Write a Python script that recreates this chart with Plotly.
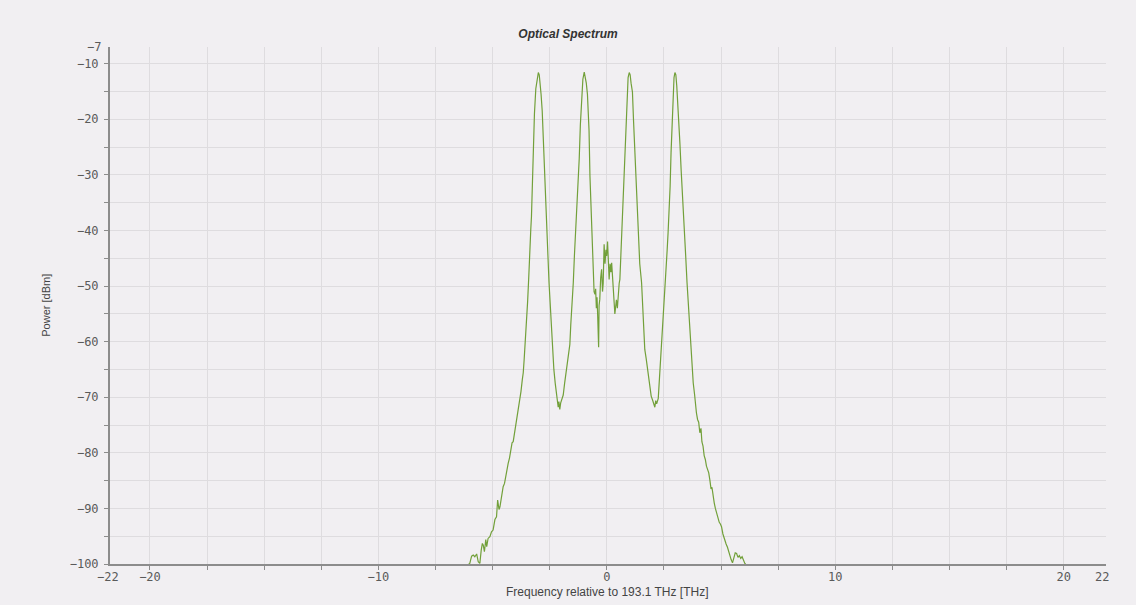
import plotly.graph_objects as go

# Optical spectrum trace: frequency offset [THz] and power [dBm]
freq_thz = [
    -6.05, -6.00, -5.92, -5.85, -5.78, -5.70, -5.63, -5.56, -5.50, -5.45,
    -5.41, -5.36, -5.30, -5.26, -5.20, -5.12, -5.05, -4.98, -4.90, -4.83,
    -4.78, -4.72, -4.68, -4.62, -4.54, -4.48, -4.42, -4.36, -4.32, -4.26,
    -4.20, -4.15, -4.10, -4.03, -3.95, -3.90, -3.85, -3.81, -3.76, -3.70,
    -3.66, -3.62, -3.57, -3.52, -3.47, -3.42, -3.37, -3.33, -3.30, -3.25,
    -3.22, -3.17, -3.11, -3.05, -3.00, -2.96, -2.92, -2.88, -2.83, -2.79,
    -2.75, -2.71, -2.67, -2.63, -2.58, -2.53, -2.47, -2.43, -2.38, -2.32,
    -2.26, -2.20, -2.16, -2.13, -2.10, -2.06, -2.02, -1.97, -1.91, -1.85,
    -1.80, -1.76, -1.70, -1.66, -1.62, -1.58, -1.52, -1.47, -1.42, -1.37,
    -1.33, -1.27, -1.21, -1.16, -1.11, -1.05, -0.99, -0.95, -0.90, -0.85,
    -0.81, -0.78, -0.74, -0.70, -0.67, -0.63, -0.60, -0.56, -0.52, -0.49,
    -0.46, -0.43, -0.40, -0.36, -0.34, -0.31, -0.27, -0.23, -0.19, -0.16,
    -0.12, -0.08, -0.04, -0.01, 0.03, 0.06, 0.10, 0.14, 0.18, 0.21,
    0.25, 0.28, 0.32, 0.35, 0.38, 0.42, 0.46, 0.50, 0.54, 0.57,
    0.61, 0.65, 0.69, 0.73, 0.78, 0.83, 0.88, 0.93, 0.98, 1.02,
    1.06, 1.12, 1.17, 1.23, 1.28, 1.33, 1.38, 1.44, 1.52, 1.58,
    1.66, 1.72, 1.81, 1.88, 1.94, 2.00, 2.06, 2.10, 2.14, 2.18,
    2.25, 2.30, 2.35, 2.39, 2.44, 2.49, 2.54, 2.59, 2.64, 2.68,
    2.73, 2.77, 2.81, 2.86, 2.90, 2.94, 2.98, 3.02, 3.06, 3.10,
    3.15, 3.20, 3.25, 3.30, 3.34, 3.40, 3.45, 3.51, 3.56, 3.61,
    3.66, 3.71, 3.75, 3.78, 3.84, 3.88, 3.92, 3.97, 4.02, 4.07,
    4.12, 4.16, 4.21, 4.26, 4.31, 4.36, 4.41, 4.46, 4.51, 4.56,
    4.60, 4.65, 4.70, 4.75, 4.80, 4.86, 4.92, 4.97, 5.02, 5.08,
    5.12, 5.16, 5.22, 5.28, 5.33, 5.38, 5.44, 5.50, 5.56, 5.62,
    5.68, 5.74, 5.80, 5.86, 5.92, 5.98, 6.04, 6.08,
]
power_dbm = [
    -100.0, -99.9, -98.6, -98.4, -98.7, -98.2, -99.6, -99.9, -97.5, -96.3,
    -96.6, -97.8, -95.6, -96.9, -95.4, -95.1, -94.2, -93.9, -92.0, -91.5,
    -88.5, -90.2, -89.7, -87.8, -86.1, -85.5, -83.8, -83.0, -81.9, -80.9,
    -79.6, -78.2, -78.0, -76.2, -74.0, -72.8, -71.2, -70.0, -69.0, -66.8,
    -65.6, -63.2, -60.1, -57.0, -52.9, -48.5, -42.0, -39.8, -37.5, -30.0,
    -24.5, -19.0, -14.5, -12.4, -11.6, -12.0, -13.5, -15.5, -18.5, -23.0,
    -27.5, -33.0, -36.0, -40.5, -44.5, -49.5, -54.2, -57.5, -61.5, -65.0,
    -67.5, -69.5, -71.0, -71.8, -70.8, -72.2, -71.0, -70.2, -69.6, -67.5,
    -65.8, -64.4, -62.5, -61.0, -60.5, -57.0, -53.5, -49.4, -44.5, -40.5,
    -37.0, -32.0, -27.1, -21.0, -16.9, -12.8, -11.5, -12.2, -13.5, -15.5,
    -18.5, -22.0, -30.2, -35.0, -39.2, -44.5, -49.4, -51.0, -51.5, -50.5,
    -54.0, -52.0, -55.5, -61.0, -53.5, -52.4, -48.5, -47.0, -51.0, -49.5,
    -42.5, -46.0, -43.5, -44.6, -42.0, -46.5, -48.8, -46.0, -47.5, -45.8,
    -49.5, -50.0, -53.0, -55.0, -53.5, -52.5, -54.0, -50.6, -49.5, -48.8,
    -44.5, -40.5, -37.4, -31.0, -25.5, -20.5, -15.5, -12.5, -11.6, -12.0,
    -13.5, -15.1, -20.5, -26.6, -31.5, -36.7, -42.0, -46.0, -49.4, -55.0,
    -61.4, -63.0, -65.6, -67.8, -69.8, -70.5, -71.5, -71.8, -70.6, -71.2,
    -70.2, -67.0, -63.5, -61.4, -57.5, -54.0, -51.2, -47.0, -43.5, -40.4,
    -36.0, -32.0, -26.0, -20.0, -15.0, -12.5, -11.6, -12.0, -14.0, -16.5,
    -20.0, -24.5, -29.0, -32.5, -35.0, -40.0, -44.5, -49.4, -53.0, -56.0,
    -58.4, -62.0, -65.0, -67.4, -69.5, -71.5, -72.8, -74.0, -74.5, -76.4,
    -75.6, -78.0, -78.8, -80.5, -81.2, -82.4, -83.0, -83.6, -84.9, -86.5,
    -86.2, -87.9, -89.0, -90.0, -90.9, -91.6, -92.5, -92.8, -93.3, -94.6,
    -95.2, -95.7, -96.4, -97.0, -97.8, -98.1, -99.2, -99.8, -98.6, -98.0,
    -98.1, -98.8, -98.5, -99.0, -98.7, -99.5, -99.9, -100.0,
]

# Axis extents and tick labels
x_range = [-21.75, 21.85]
y_range = [-100, -7]
x_tick_vals = [-20 + 2.5 * i for i in range(17)]
x_tick_text = ["\u221220", "", "", "", "\u221210", "", "", "", "0",
               "", "", "", "10", "", "", "", "20"]
y_tick_vals = [-100 + 5 * i for i in range(19)]
y_tick_text = ["\u2212%d" % (100 - 5 * i) if (100 - 5 * i) % 10 == 0 else ""
               for i in range(19)]
# Range-end labels (paper fraction along the x axis, text)
x_end_labels = [(-0.002, "\u221222"), (0.996, "22")]
y_end_label = (-7, "\u22127")

BG = "#f1eff2"
GRID = "#dedcdf"
AXIS = "#8c8c8c"
TICK_FONT = dict(family="DejaVu Sans Mono", size=12, color="#5a5a5a")

fig = go.Figure()
fig.add_trace(go.Scatter(
    x=freq_thz, y=power_dbm, mode="lines",
    line=dict(color="#72a03a", width=1.2),
    showlegend=False,
))

annotations = []
for xv, txt in x_end_labels:
    annotations.append(dict(
        x=xv, y=0, xref="paper", yref="paper", text=txt, showarrow=False,
        xanchor="center", yanchor="middle", yshift=-13, font=TICK_FONT,
    ))
annotations.append(dict(
    x=0, y=y_end_label[0], xref="paper", yref="y", text=y_end_label[1],
    showarrow=False, xanchor="right", yanchor="middle", xshift=-7,
    font=TICK_FONT,
))
annotations.append(dict(
    x=0.499, y=-0.054, xref="paper", yref="paper",
    text="Frequency relative to 193.1 THz [THz]", showarrow=False,
    xanchor="center", yanchor="middle",
    font=dict(family="Liberation Sans", size=12, color="#444444"),
))
annotations.append(dict(
    x=-0.065, y=0.5, xref="paper", yref="paper", text="Power [dBm]",
    showarrow=False, textangle=-90, xanchor="center", yanchor="middle",
    font=dict(family="Liberation Sans", size=11, color="#444444"),
))

fig.update_layout(
    width=1136, height=605,
    margin=dict(l=110, r=30, t=47, b=41),
    paper_bgcolor=BG, plot_bgcolor=BG,
    title=dict(
        text="<b><i>Optical Spectrum</i></b>", x=0.5, xref="container",
        y=1 - 34 / 605, yanchor="middle", xanchor="center",
        font=dict(family="Liberation Sans", size=12, color="#333333"),
    ),
    annotations=annotations,
)
fig.update_xaxes(
    range=x_range, tickmode="array", tickvals=x_tick_vals,
    ticktext=x_tick_text, ticks="outside", ticklen=4, tickcolor=AXIS,
    tickwidth=1, showgrid=True, gridcolor=GRID, gridwidth=1,
    zeroline=False, showline=True, linecolor=AXIS, linewidth=2,
    tickfont=TICK_FONT, ticklabelstandoff=-3,
)
fig.update_yaxes(
    range=y_range, tickmode="array", tickvals=y_tick_vals,
    ticktext=y_tick_text, ticks="outside", ticklen=4, tickcolor=AXIS,
    tickwidth=1, showgrid=True, gridcolor=GRID, gridwidth=1,
    zeroline=False, showline=True, linecolor=AXIS, linewidth=2,
    tickfont=TICK_FONT, ticklabelstandoff=3,
)

fig.write_html("out.html")
